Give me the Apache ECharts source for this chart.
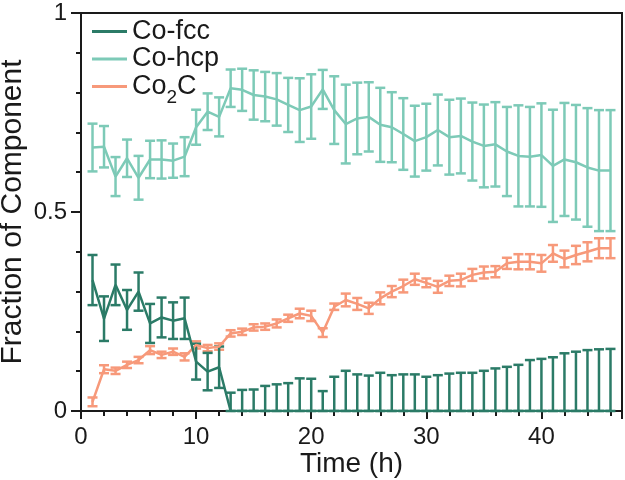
<!DOCTYPE html>
<html>
<head>
<meta charset="utf-8">
<script src="https://cdn.jsdelivr.net/npm/echarts@6/dist/echarts.min.js"></script>
<style>html,body{margin:0;padding:0;background:#fff}#c{width:625px;height:480px}</style>
</head>
<body>
<div id="c"></div>
<script>
const time = [1,2,3,4,5,6,7,8,9,10,11,12,13,14,15,16,17,18,19,20,21,22,23,24,25,26,27,28,29,30,31,32,33,34,35,36,37,38,39,40,41,42,43,44,45,46];
const fccMean = [0.329,0.232,0.317,0.254,0.300,0.220,0.235,0.227,0.233,0.124,0.099,0.110,0,0,0,0,0,0,0,0,0,0,0,0,0,0,0,0,0,0,0,0,0,0,0,0,0,0,0,0,0,0,0,0,0,0];
const fccErr = [0.063,0.056,0.051,0.050,0.048,0.049,0.050,0.046,0.052,0.045,0.047,0.052,0.046,0.053,0.054,0.063,0.067,0.070,0.082,0.081,0.050,0.086,0.101,0.092,0.089,0.096,0.090,0.092,0.092,0.086,0.090,0.094,0.096,0.096,0.101,0.107,0.111,0.116,0.128,0.131,0.135,0.145,0.149,0.153,0.155,0.156];
const hcpMean = [0.662,0.664,0.589,0.635,0.586,0.632,0.632,0.629,0.639,0.713,0.752,0.739,0.811,0.807,0.794,0.790,0.783,0.769,0.756,0.765,0.808,0.756,0.721,0.735,0.739,0.719,0.713,0.696,0.678,0.688,0.706,0.688,0.691,0.677,0.666,0.670,0.652,0.641,0.639,0.643,0.616,0.632,0.625,0.612,0.604,0.604];
const hcpErr = [0.060,0.052,0.049,0.047,0.055,0.047,0.048,0.043,0.049,0.044,0.046,0.049,0.047,0.053,0.062,0.062,0.066,0.068,0.080,0.081,0.049,0.085,0.099,0.090,0.087,0.093,0.088,0.090,0.089,0.084,0.089,0.094,0.094,0.098,0.104,0.106,0.112,0.127,0.125,0.130,0.141,0.142,0.144,0.149,0.152,0.152];
const c2cMean = [0.023,0.105,0.101,0.116,0.128,0.153,0.141,0.149,0.136,0.166,0.158,0.162,0.195,0.199,0.210,0.212,0.220,0.233,0.245,0.239,0.197,0.262,0.279,0.269,0.258,0.283,0.300,0.314,0.331,0.322,0.312,0.327,0.329,0.342,0.348,0.350,0.371,0.375,0.375,0.371,0.396,0.382,0.392,0.400,0.409,0.409];
const c2cErr = [0.011,0.010,0.008,0.008,0.008,0.010,0.008,0.008,0.009,0.009,0.008,0.008,0.008,0.008,0.008,0.008,0.010,0.009,0.012,0.013,0.011,0.008,0.016,0.015,0.014,0.015,0.014,0.016,0.014,0.011,0.015,0.013,0.016,0.015,0.015,0.014,0.014,0.019,0.019,0.021,0.021,0.021,0.023,0.024,0.025,0.025];
const seriesNames = ['Co-fcc','Co-hcp','Co2C'];
const xTicks = [0,10,20,30,40];
const yTicks = [0,0.5,1];

const COL = {'Co-fcc':'#2b7b67','Co-hcp':'#7dcab7','Co2C':'#f7997a'};
const FONT = 'Liberation Sans, Arial, Helvetica, sans-serif';
const INK = '#1a1a1a';

function lineData(m){ return time.map((t,i)=>[t,m[i]]); }
function errData(m,e){ return time.map((t,i)=>[t,Math.max(0,m[i]-e[i]),m[i]+e[i]]); }
function errRender(color){
  return function(params, api){
    const x = api.value(0), lo = api.value(1), hi = api.value(2);
    const pLo = api.coord([x, lo]), pHi = api.coord([x, hi]);
    const hw = 5;
    const style = {stroke: color, lineWidth: 2.5, fill: null};
    return {type:'group', children:[
      {type:'line', shape:{x1:pHi[0], y1:pHi[1], x2:pLo[0], y2:pLo[1]}, style: style},
      {type:'line', shape:{x1:pHi[0]-hw, y1:pHi[1], x2:pHi[0]+hw, y2:pHi[1]}, style: style},
      {type:'line', shape:{x1:pLo[0]-hw, y1:pLo[1], x2:pLo[0]+hw, y2:pLo[1]}, style: style}
    ]};
  };
}
function mk(name, m, e){
  return [
    {name:name, type:'line', xAxisIndex:0, data: lineData(m), symbol:'none', showSymbol:false,
     lineStyle:{color:COL[name], width:2.5}, itemStyle:{color:COL[name]}, z:3},
    {name:name+'_err', type:'custom', xAxisIndex:0, data: errData(m,e), renderItem: errRender(COL[name]),
     encode:{x:0, y:[1,2]}, z:3}
  ];
}

const chart = echarts.init(document.getElementById('c'), null, {renderer:'canvas'});
chart.setOption({
  animation:false,
  grid:{left:81, right:3, top:13, bottom:69, show:true, borderColor:INK, borderWidth:2,
        containLabel:false, outerBoundsMode:'none'},
  legend:{
    data: seriesNames.map(n => ({name:n, icon:'rect', itemStyle:{color:COL[n]}})),
    left:87, top:13, orient:'vertical', itemWidth:35, itemHeight:3, itemGap:0.5,
    formatter: n => n==='Co2C' ? 'Co{sub|2}C' : n,
    textStyle:{fontFamily:FONT, fontSize:27, color:INK, lineHeight:25,
      rich:{sub:{fontFamily:FONT, fontSize:19, color:INK, lineHeight:25, padding:[11,0,-11,0]}}}
  },
  xAxis:[
    {type:'value', position:'bottom', min:0, max:47, interval:10,
     axisLine:{show:true, onZero:false, lineStyle:{color:INK, width:2}},
     axisTick:{show:true, length:8, lineStyle:{color:INK, width:2}},
     minorTick:{show:false}, splitLine:{show:false},
     axisLabel:{fontFamily:FONT, fontSize:24, color:INK, margin:14,
       formatter: v => xTicks.indexOf(v) >= 0 ? String(v) : ''},
     name:'Time (h)', nameLocation:'middle', nameGap:39, nameMoveOverlap:false,
     nameTextStyle:{fontFamily:FONT, fontSize:28, color:INK}},
    {type:'value', position:'bottom', min:0, max:47, interval:2,
     axisLine:{show:false, onZero:false},
     axisTick:{show:true, length:5, lineStyle:{color:INK, width:2}},
     axisLabel:{show:false}, splitLine:{show:false}}
  ],
  yAxis:{type:'value', min:0, max:1, interval:0.5,
    axisLine:{show:true, lineStyle:{color:INK, width:2}},
    axisTick:{show:true, length:10, lineStyle:{color:INK, width:2}},
    minorTick:{show:true, splitNumber:5, length:5, lineStyle:{color:INK, width:2}},
    splitLine:{show:false},
    axisLabel:{fontFamily:FONT, fontSize:24, color:INK, margin:14,
      formatter: v => yTicks.indexOf(v) >= 0 ? String(v) : ''},
    name:'Fraction of Component', nameLocation:'middle', nameGap:53, nameMoveOverlap:false,
    nameTextStyle:{fontFamily:FONT, fontSize:30, color:INK}},
  series: [].concat(mk('Co-hcp', hcpMean, hcpErr), mk('Co2C', c2cMean, c2cErr), mk('Co-fcc', fccMean, fccErr))
});
</script>
</body>
</html>
